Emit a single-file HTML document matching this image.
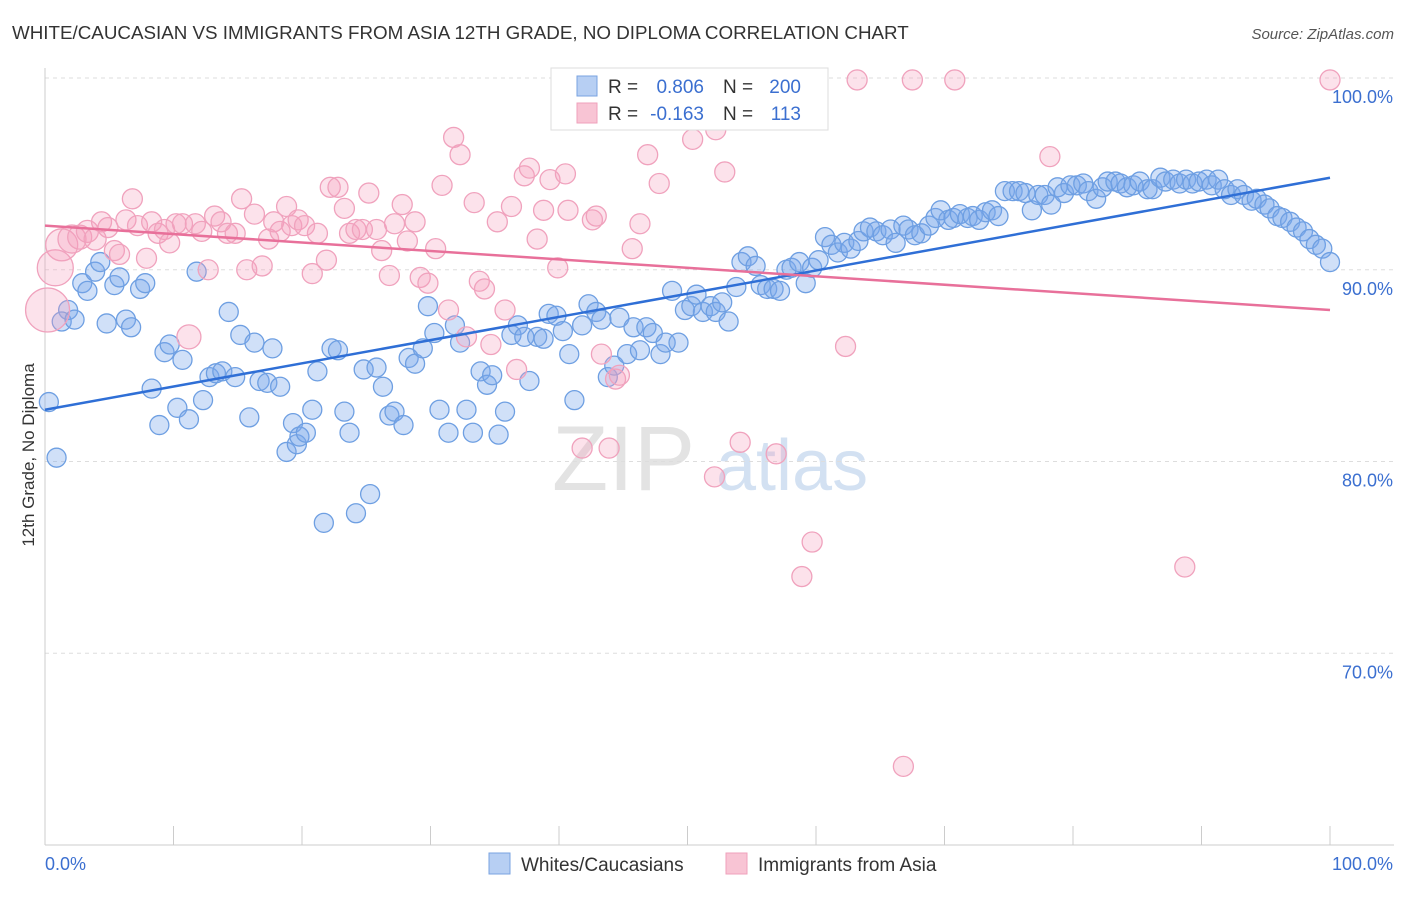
<!DOCTYPE html>
<html><head><meta charset="utf-8">
<style>
body{margin:0;background:#fff;font-family:"Liberation Sans",sans-serif;}
svg text{font-family:"Liberation Sans",sans-serif;}
</style></head>
<body>
<svg id="chart" width="1406" height="892" viewBox="0 0 1406 892" xmlns="http://www.w3.org/2000/svg">
<text x="12" y="39" font-size="18.8" fill="#333">WHITE/CAUCASIAN VS IMMIGRANTS FROM ASIA 12TH GRADE, NO DIPLOMA CORRELATION CHART</text>
<text x="1394" y="39" font-size="15" fill="#555" text-anchor="end" font-style="italic">Source: ZipAtlas.com</text>
<g>
<text x="552" y="490" font-size="92" fill="#ddd" font-family="Liberation Serif, serif" opacity="0.8">ZIP</text>
<text x="716" y="490" font-size="72" fill="#c9daf0" opacity="0.8">atlas</text>
</g>
<g id="grid"></g>
<g id="axes"></g>
<g id="marks"></g>
<text transform="translate(34,455) rotate(-90)" font-size="17" fill="#333" text-anchor="middle">12th Grade, No Diploma</text>
<g>
<rect x="551" y="68" width="277" height="62" fill="#fff" stroke="#ddd"/>
<rect x="577" y="76" width="20" height="20" fill="#b7cff3" stroke="#7aa3e0"/>
<rect x="577" y="103" width="20" height="20" fill="#f8c4d4" stroke="#efa1bb"/>
<text x="608" y="93" font-size="19" fill="#333">R =</text>
<text x="704" y="93" font-size="19" fill="#3b6fd0" text-anchor="end">0.806</text>
<text x="723" y="93" font-size="19" fill="#333">N =</text>
<text x="801" y="93" font-size="19" fill="#3b6fd0" text-anchor="end">200</text>
<text x="608" y="120" font-size="19" fill="#333">R =</text>
<text x="704" y="120" font-size="19" fill="#3b6fd0" text-anchor="end">-0.163</text>
<text x="723" y="120" font-size="19" fill="#333">N =</text>
<text x="801" y="120" font-size="19" fill="#3b6fd0" text-anchor="end">113</text>
</g>
<g>
<rect x="489" y="853" width="21" height="21" fill="#b7cff3" stroke="#7aa3e0"/>
<text x="521" y="871" font-size="19" fill="#333">Whites/Caucasians</text>
<rect x="726" y="853" width="21" height="21" fill="#f8c4d4" stroke="#efa1bb"/>
<text x="758" y="871" font-size="19" fill="#333">Immigrants from Asia</text>
</g>
</svg>
<script>
const blueX=[0.3,0.9,1.8,1.3,2.3,2.9,3.3,3.9,4.3,4.8,5.4,5.8,6.3,6.7,7.4,7.8,8.3,8.9,9.3,9.7,10.3,10.7,11.2,11.8,12.3,12.8,13.3,13.8,14.3,14.8,15.2,15.9,16.3,16.7,17.3,17.7,18.3,18.8,19.3,19.6,19.8,20.3,20.8,21.2,21.7,22.3,22.8,23.3,23.7,24.8,24.2,25.3,25.8,26.3,26.8,27.2,27.9,28.3,28.8,29.4,29.8,30.3,30.7,31.4,31.9,32.3,32.8,33.3,33.9,34.4,34.8,35.3,35.8,36.3,36.8,37.3,37.7,38.3,38.8,39.2,39.8,40.3,40.8,41.2,41.8,42.3,42.9,43.3,43.8,44.3,44.7,45.3,45.8,46.3,46.8,47.3,47.9,48.3,48.8,49.3,49.8,50.3,50.7,51.2,51.8,52.2,52.7,53.2,53.8,54.2,54.7,55.3,55.7,56.2,56.7,57.2,57.7,58.1,58.7,59.2,59.7,60.2,60.7,61.2,61.7,62.2,62.7,63.3,63.7,64.2,64.7,65.2,65.8,66.2,66.8,67.2,67.7,68.2,68.8,69.3,69.7,70.3,70.7,71.2,71.8,72.2,72.7,73.2,73.7,74.2,74.7,75.3,75.8,76.3,76.8,77.3,77.8,78.3,78.8,79.3,79.8,80.3,80.8,81.2,81.8,82.3,82.7,83.3,83.7,84.2,84.7,85.2,85.8,86.2,86.8,87.2,87.8,88.3,88.8,89.3,89.8,90.4,90.8,91.3,91.8,92.3,92.8,93.3,93.9,94.3,94.9,95.3,95.9,96.3,96.9,97.4,97.9,98.4,98.9,99.4,100];
const blueY=[83.1,80.2,87.9,87.3,87.4,89.3,88.9,89.9,90.4,87.2,89.2,89.6,87.4,87.0,89.0,89.3,83.8,81.9,85.7,86.1,82.8,85.3,82.2,89.9,83.2,84.4,84.6,84.7,87.8,84.4,86.6,82.3,86.2,84.2,84.1,85.9,83.9,80.5,82.0,80.9,81.3,81.5,82.7,84.7,76.8,85.9,85.8,82.6,81.5,84.8,77.3,78.3,84.9,83.9,82.4,82.6,81.9,85.4,85.1,85.9,88.1,86.7,82.7,81.5,87.1,86.2,82.7,81.5,84.7,84.0,84.5,81.4,82.6,86.6,87.1,86.5,84.2,86.5,86.4,87.7,87.6,86.8,85.6,83.2,87.1,88.2,87.8,87.4,84.4,85.0,87.5,85.6,87.0,85.8,87.0,86.7,85.6,86.2,88.9,86.2,87.9,88.1,88.7,87.8,88.1,87.8,88.3,87.3,89.1,90.4,90.7,90.2,89.2,89.0,89.0,88.9,90.0,90.1,90.4,89.3,90.1,90.5,91.7,91.3,90.9,91.4,91.1,91.5,92.0,92.2,92.0,91.8,92.1,91.4,92.3,92.1,91.8,91.9,92.3,92.7,93.1,92.6,92.7,92.9,92.7,92.8,92.6,93.0,93.1,92.8,94.1,94.1,94.1,94.0,93.1,93.9,93.9,93.4,94.3,94.0,94.4,94.4,94.5,94.1,93.7,94.3,94.6,94.6,94.5,94.3,94.4,94.6,94.2,94.2,94.8,94.6,94.7,94.5,94.7,94.5,94.6,94.7,94.4,94.7,94.2,93.9,94.2,93.9,93.6,93.7,93.4,93.2,92.8,92.7,92.5,92.2,92.0,91.6,91.3,91.1,90.4];
const pinkX=[0.2,0.8,1.3,2.1,2.7,3.3,3.9,4.4,4.9,5.4,5.8,6.3,6.8,7.2,7.9,8.3,8.8,9.3,9.7,10.2,10.7,11.2,11.7,12.2,12.7,13.2,13.7,14.2,14.8,15.3,15.7,16.3,16.9,17.4,17.8,18.3,18.8,19.2,19.7,20.2,20.8,21.2,21.9,22.2,22.8,23.3,23.7,24.2,24.7,25.2,25.8,26.2,26.8,27.2,27.8,28.2,28.8,29.2,29.8,30.4,30.9,31.4,31.8,32.3,32.8,33.4,33.8,34.2,34.7,35.2,35.8,36.3,36.7,37.3,37.7,38.3,38.8,39.3,39.9,40.5,40.7,41.8,42.6,42.9,43.3,43.9,44.4,44.7,45.7,46.3,46.9,47.8,50.4,52.1,52.2,52.9,53.4,54.1,56.9,59.7,58.9,62.3,63.2,66.8,67.5,70.8,78.2,88.7,100];
const pinkY=[87.9,90.1,91.3,91.6,91.7,92.0,91.6,92.5,92.2,91.0,90.8,92.6,93.7,92.3,90.6,92.5,91.9,92.1,91.4,92.4,92.4,86.5,92.4,92.0,90.0,92.8,92.5,91.9,91.9,93.7,90.0,92.9,90.2,91.6,92.5,92.0,93.3,92.3,92.6,92.3,89.8,91.9,90.5,94.3,94.3,93.2,91.9,92.1,92.1,94.0,92.1,91.0,89.7,92.4,93.4,91.5,92.5,89.6,89.3,91.1,94.4,87.9,96.9,96.0,86.5,93.5,89.4,89.0,86.1,92.5,87.9,93.3,84.8,94.9,95.3,91.6,93.1,94.7,90.1,95.0,93.1,80.7,92.6,92.8,85.6,80.7,84.3,84.5,91.1,92.4,96.0,94.5,96.8,79.2,97.3,95.1,99.6,81.0,80.4,75.8,74.0,86.0,99.9,64.1,99.9,99.9,95.9,74.5,99.9];
const pinkR=[22,18,16,14,12,11,11,10,10,10,10,10,10,10,10,10,10,10,10,10,10,12,10,10,10,10,10,10,10,10,10,10,10,10,10,10,10,10,10,10,10,10,10,10,10,10,10,10,10,10,10,10,10,10,10,10,10,10,10,10,10,10,10,10,10,10,10,10,10,10,10,10,10,10,10,10,10,10,10,10,10,10,10,10,10,10,10,10,10,10,10,10,10,10,10,10,10,10,10,10,10,10,10,10,10,10,10,10,10,10,10];
const blueLine=[82.7,94.8];
const pinkLine=[92.3,87.9];
const yTicks=[70,80,90,100];
const yTickLabels=["70.0%","80.0%","90.0%","100.0%"];
const xTicks=[0,10,20,30,40,50,60,70,80,90,100];

const NS="http://www.w3.org/2000/svg";
const X0=45,X1=1330,Ytop=78,Ybot=845;
function sx(v){return X0+(X1-X0)*v/100;}
function sy(v){return Ybot-(Ybot-Ytop)*(v-60)/40;}
function mk(tag,attrs,parent){const e=document.createElementNS(NS,tag);for(const k in attrs)e.setAttribute(k,attrs[k]);parent.appendChild(e);return e;}
const grid=document.getElementById('grid'),axes=document.getElementById('axes'),marks=document.getElementById('marks');
yTicks.forEach((t,i)=>{
  const l=mk('line',{x1:X0,x2:1394,y1:sy(t),y2:sy(t),stroke:'#ddd','stroke-dasharray':'4,4'},grid);
  
  
  const tx=mk('text',{x:1393,y:sy(t)+25,'font-size':18,fill:'#3b6fd0','text-anchor':'end'},axes);
  tx.textContent=yTickLabels[i];
  
  
});
const ax=mk('line',{x1:X0,x2:1394,y1:Ybot,y2:Ybot,stroke:'#ccc'},axes);


const ay=mk('line',{x1:X0,x2:X0,y1:68,y2:Ybot,stroke:'#ccc'},axes);


xTicks.forEach(t=>{
  const l=mk('line',{x1:sx(t),x2:sx(t),y1:826,y2:Ybot,stroke:'#ccc'},axes);
  
  
});
const xl=mk('text',{x:45,y:870,'font-size':18,fill:'#3b6fd0'},axes);xl.textContent='0.0%';


const xr=mk('text',{x:1393,y:870,'font-size':18,fill:'#3b6fd0','text-anchor':'end'},axes);xr.textContent='100.0%';



blueX.forEach((x,i)=>{
  const c=mk('circle',{cx:sx(x),cy:sy(blueY[i]),r:9.5,fill:'rgba(120,165,235,0.35)',stroke:'#6e9fe2','stroke-width':1.3},marks);
  
  
});
pinkX.forEach((x,i)=>{
  const c=mk('circle',{cx:sx(x),cy:sy(pinkY[i]),r:pinkR[i],fill:'rgba(245,160,190,0.3)',stroke:'#f0a2bd','stroke-width':1.3},marks);
  
  
});
const bl=mk('line',{x1:sx(0),y1:sy(blueLine[0]),x2:sx(100),y2:sy(blueLine[1]),stroke:'#2f6fd6','stroke-width':2.5},marks);


const pl=mk('line',{x1:sx(0),y1:sy(pinkLine[0]),x2:sx(100),y2:sy(pinkLine[1]),stroke:'#e8709a','stroke-width':2.5},marks);


</script>
</body></html>
